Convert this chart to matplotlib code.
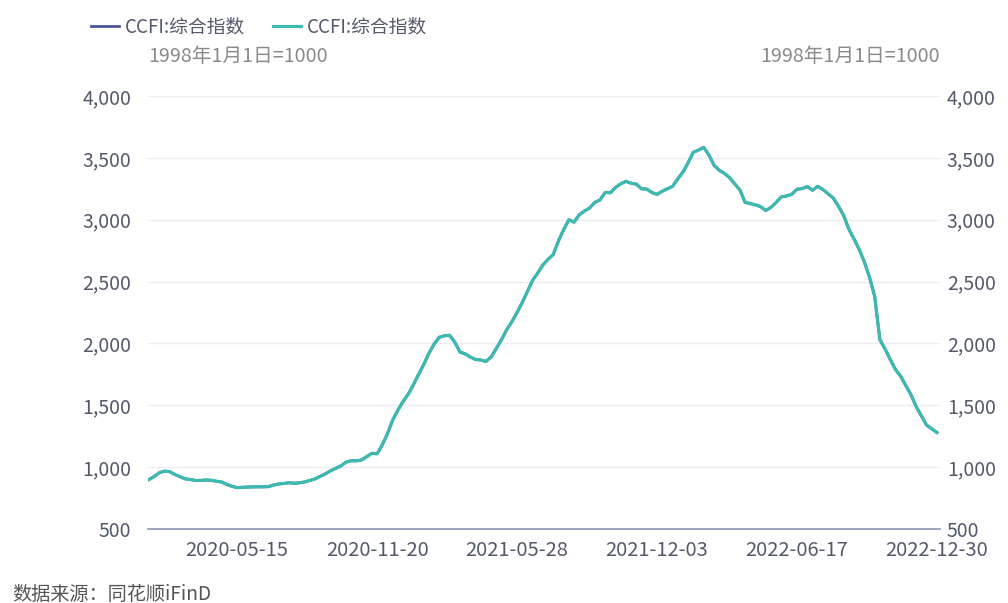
import matplotlib
matplotlib.use("Agg")
import matplotlib.pyplot as plt
from matplotlib.ticker import FuncFormatter, FixedLocator

plt.rcParams['font.family'] = ['Noto Sans CJK SC', 'DejaVu Sans']

series_name = "CCFI:综合指数"
unit_label = "1998年1月1日=1000"
source_text = "数据来源：同花顺iFinD"

tick_labels = ["2020-05-15", "2020-11-20", "2021-05-28", "2021-12-03", "2022-06-17", "2022-12-30"]
tick_index = [17, 44, 71, 98, 125, 152]

ccfi = [
    900, 925, 955, 968, 963, 940, 922, 905, 900, 892,
    893, 896, 894, 886, 880, 860, 845, 834, 837, 839,
    840, 841, 841, 842, 855, 864, 868, 874, 870, 873,
    880, 892, 905, 925, 945, 970, 990, 1010, 1040, 1052,
    1051, 1058, 1085, 1112, 1108, 1180, 1270, 1380, 1460, 1530,
    1590, 1665, 1750, 1830, 1920, 1995, 2050, 2062, 2066, 2010,
    1930, 1915, 1890, 1870, 1866, 1855, 1890, 1960, 2030, 2110,
    2175, 2250, 2330, 2420, 2510, 2570, 2635, 2680, 2720, 2830,
    2920, 3000, 2980, 3040, 3070, 3095, 3140, 3160, 3220, 3218,
    3260, 3290, 3310, 3295, 3288, 3250, 3248, 3220, 3205, 3230,
    3250, 3270, 3330, 3385, 3460, 3545, 3563, 3585, 3525, 3440,
    3400, 3375, 3340, 3290, 3240, 3140, 3130, 3120, 3105, 3075,
    3100, 3140, 3185, 3192, 3205, 3246, 3252, 3268, 3238, 3270,
    3245, 3210, 3175, 3110, 3035, 2925, 2845, 2760, 2660, 2535,
    2380, 2030, 1955, 1870, 1790, 1735, 1660, 1585, 1490, 1415,
    1340, 1310, 1280,
]
x = list(range(len(ccfi)))

yticks = [500, 1000, 1500, 2000, 2500, 3000, 3500, 4000]

fig = plt.figure(figsize=(10.08, 6.03), dpi=100)
ax = fig.add_axes([148/1008, 1-529/603, 792/1008, 433/603])
ax2 = ax.twinx()

navy = '#4a5596'
teal = '#3dbab0'
tick_color = '#555a6a'

ax.plot(x, ccfi, color=navy, lw=2.0, label=series_name)
ax2.plot(x, ccfi, color=teal, lw=2.3, label=series_name)

for a in (ax, ax2):
    a.set_ylim(500, 4000)
    a.set_yticks(yticks)
    a.yaxis.set_major_formatter(FuncFormatter(lambda v, p: f"{int(v):,}"))
    a.set_xlim(-0.2, 152.6)
    for s in a.spines.values():
        s.set_visible(False)
    a.tick_params(axis='y', length=0, labelsize=14, labelcolor=tick_color)

ax.tick_params(axis='y', pad=12)
ax2.tick_params(axis='y', pad=5)
ax.yaxis.grid(True, color='#ececf4', lw=1)
ax.set_axisbelow(True)
ax.spines['bottom'].set_visible(True)
ax.spines['bottom'].set_color('#8a94b8')
ax.spines['bottom'].set_linewidth(1.2)

for lbl in ax2.get_yticklabels():
    lbl.set_verticalalignment('center_baseline')

ax.xaxis.set_major_locator(FixedLocator(tick_index))
ax.set_xticklabels(tick_labels)
ax.tick_params(axis='x', length=0, pad=8, labelsize=14.5, labelcolor=tick_color)

fig.text(148/1008, 1-56/603, unit_label, ha='left', va='center', fontsize=14.2, color='#8a8a8a')
fig.text(940/1008, 1-56/603, unit_label, ha='right', va='center', fontsize=14.2, color='#8a8a8a')
fig.text(12/1008, 1-594/603, source_text, ha='left', va='center', fontsize=13.8, color='#555555')

h1, l1 = ax.get_legend_handles_labels()
h2, l2 = ax2.get_legend_handles_labels()
fig.legend(h1 + h2, l1 + l2, loc='center left', bbox_to_anchor=(74/1008, 1-27/603),
           ncol=2, frameon=False, fontsize=13.5, handlelength=1.5, handletextpad=0.3,
           columnspacing=1.5, labelcolor=tick_color)

fig.savefig("out.png", dpi=100)
